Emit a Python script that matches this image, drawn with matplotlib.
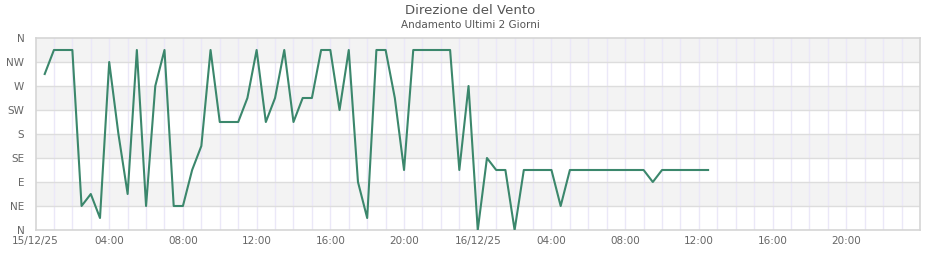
import numpy as np
from matplotlib import pyplot as plt

# hours since 15/12/25 00:00, one reading every 30 minutes
hours = np.arange(0.5, 37.0, 0.5)
# wind direction in degrees
direction = [
    292.5, 337.5, 337.5, 337.5, 45, 67.5, 22.5, 315, 180, 67.5,
    337.5, 45, 270, 337.5, 45, 45, 112.5, 157.5, 337.5, 202.5,
    202.5, 202.5, 247.5, 337.5, 202.5, 247.5, 337.5, 202.5, 247.5, 247.5,
    337.5, 337.5, 225, 337.5, 90, 22.5, 337.5, 337.5, 247.5, 112.5,
    337.5, 337.5, 337.5, 337.5, 337.5, 112.5, 270, 0, 135, 112.5,
    112.5, 0, 112.5, 112.5, 112.5, 112.5, 45, 112.5, 112.5, 112.5,
    112.5, 112.5, 112.5, 112.5, 112.5, 112.5, 90, 112.5, 112.5, 112.5,
    112.5, 112.5, 112.5,
]
compass = ['N', 'NE', 'E', 'SE', 'S', 'SW', 'W', 'NW', 'N']
tick_hours = np.arange(0, 48, 4)
tick_labels = ['15/12/25', '04:00', '08:00', '12:00', '16:00', '20:00',
               '16/12/25', '04:00', '08:00', '12:00', '16:00', '20:00']

fig = plt.figure(figsize=(9.4, 2.6), dpi=100)
ax = fig.add_axes([35.5 / 940, 1 - 230 / 260, (920 - 35.5) / 940, 192 / 260])

for k in range(1, 8, 2):
    ax.axhspan(k * 45, (k + 1) * 45, color='#f3f3f3', zorder=0, lw=0)
for h in range(1, 48):
    ax.axvline(h, color='#ebe8f8', lw=1, zorder=1)
for k in range(1, 8):
    ax.axhline(k * 45, color='#dddddd', lw=1, zorder=1)

ax.plot(hours, direction, color='#3b876c', lw=1.5, zorder=3)

ax.set_xlim(0, 48)
ax.set_ylim(0, 360)
ax.set_yticks(np.arange(0, 361, 45))
ax.set_yticklabels(compass)
ax.set_xticks(tick_hours)
ax.set_xticklabels(tick_labels)
ax.tick_params(length=0, labelsize=7.5, labelcolor='#666666')
ax.tick_params(axis='y', pad=8)
ax.tick_params(axis='x', pad=4)
for s in ax.spines.values():
    s.set_color('#d5d5d5')
    s.set_linewidth(1.2)

fig.text(0.5, 1 - 11 / 260, 'Direzione del Vento', ha='center', va='center',
         fontsize=9.5, color='#555555')
fig.text(0.5, 1 - 25 / 260, 'Andamento Ultimi 2 Giorni', ha='center',
         va='center', fontsize=7.5, color='#555555')

fig.savefig('out.png', dpi=100)
